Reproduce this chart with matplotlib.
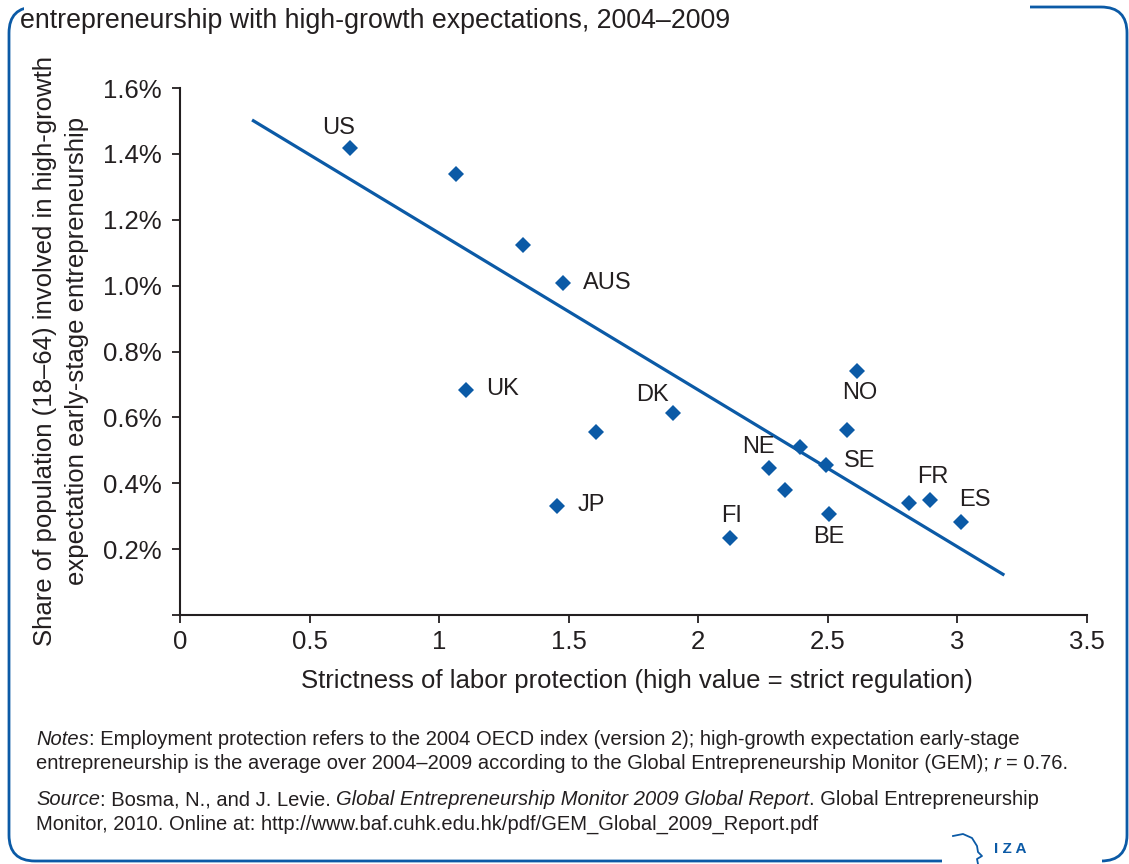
import matplotlib.pyplot as plt
from matplotlib.patches import FancyBboxPatch, Rectangle
import numpy as np

# 数据：就业保护严格程度 vs 高增长预期创业比例（%）
emp_protection = [0.656, 1.066, 1.324, 1.479, 1.104, 1.606, 1.456, 1.903, 2.614, 2.575,
                  2.394, 2.494, 2.274, 2.336, 2.506, 2.124, 2.815, 2.896, 3.015]
high_growth = [1.418, 1.339, 1.124, 1.009, 0.682, 0.555, 0.330, 0.612, 0.742, 0.561,
               0.509, 0.455, 0.445, 0.379, 0.306, 0.233, 0.339, 0.348, 0.282]
country = ['US', '', '', 'AUS', 'UK', '', 'JP', 'DK', 'NO', '',
           '', 'SE', 'NE', '', 'BE', 'FI', '', 'FR', 'ES']
# 回归线两个端点
fit_x = [0.278, 3.181]
fit_y = [1.503, 0.121]

x_ticks = [0, 0.5, 1, 1.5, 2, 2.5, 3, 3.5]
y_ticks = [0, 0.2, 0.4, 0.6, 0.8, 1.0, 1.2, 1.4, 1.6]

# 标签相对点的偏移（像素）和对齐方式
label_pos = {
    'US': (-11, 20, 'center'), 'AUS': (20, 0, 'left'), 'UK': (20, 1, 'left'),
    'JP': (20, 1, 'left'), 'DK': (-21, 18, 'center'), 'NO': (2, -22, 'center'),
    'SE': (18, 4, 'left'), 'NE': (-11, 21, 'center'), 'FI': (1, 22, 'center'),
    'BE': (-1, -23, 'center'), 'FR': (2, 23, 'center'), 'ES': (14, 22, 'center'),
}

blue = '#0b5aa6'
dark = '#231f20'
plt.rcParams['font.family'] = ['Liberation Sans', 'DejaVu Sans']
plt.rcParams['text.color'] = dark

fig = plt.figure(figsize=(11.29, 8.64), dpi=100)

# 背景层：像素坐标，画边框、标题、注释
bg = fig.add_axes([0, 0, 1, 1], zorder=0)
bg.set_xlim(0, 1129)
bg.set_ylim(864, 0)
bg.axis('off')
bg.add_patch(FancyBboxPatch((9, 7), 1118, 854, boxstyle='round,pad=0,rounding_size=26',
                            fill=False, ec=blue, lw=2))
bg.add_patch(Rectangle((24, 0), 1006, 16, fc='white', ec='none', zorder=3))
bg.add_patch(Rectangle((942, 845), 160, 19, fc='white', ec='none', zorder=3))
bg.text(20, 21, 'entrepreneurship with high-growth expectations, 2004–2009',
        fontsize=19.3, ha='left', va='center', zorder=4)

# IZA 标志
bg.plot([953, 963, 972, 977, 978, 982, 977, 978], [836, 834, 838, 846, 852, 856, 859, 864],
        color=blue, lw=1.3, zorder=4)
bg.text(994, 849, 'I Z A', color=blue, fontsize=11, fontweight='bold', ha='left',
        va='center', zorder=4)

# 坐标轴标签
bg.text(61, 351, 'Share of population (18–64) involved in high-growth\n'
        'expectation early-stage entrepreneurship', rotation=90, ha='center',
        va='center', multialignment='center', fontsize=18.5, linespacing=1.45)
bg.text(637, 681, 'Strictness of labor protection (high value = strict regulation)',
        ha='center', va='center', fontsize=18.5)

# 注释（斜体部分分段拼接）
fs = 14.5
t = bg.text(36, 745, 'Notes', fontsize=fs, style='italic', va='baseline')
bg.annotate(': Employment protection refers to the 2004 OECD index (version 2); '
            'high-growth expectation early-stage', xy=(1, 0), xycoords=t,
            fontsize=fs, va='bottom')
t = bg.text(36, 769, 'entrepreneurship is the average over 2004–2009 according to the '
            'Global Entrepreneurship Monitor (GEM);', fontsize=fs, va='baseline')
t = bg.annotate('r', xy=(1, 0), xycoords=t, xytext=(5, 0), textcoords='offset pixels',
                fontsize=fs, style='italic', va='bottom')
bg.annotate('= 0.76.', xy=(1, 0), xycoords=t, xytext=(5, 0), textcoords='offset pixels',
            fontsize=fs, va='bottom')
t = bg.text(36, 805, 'Source', fontsize=fs, style='italic', va='baseline')
t = bg.annotate(': Bosma, N., and J. Levie.', xy=(1, 0), xycoords=t, fontsize=fs, va='bottom')
t = bg.annotate('Global Entrepreneurship Monitor 2009 Global Report', xy=(1, 0), xycoords=t,
                xytext=(5, 0), textcoords='offset pixels', fontsize=fs, style='italic',
                va='bottom')
bg.annotate('. Global Entrepreneurship', xy=(1, 0), xycoords=t, fontsize=fs, va='bottom')
bg.text(36, 830, 'Monitor, 2010. Online at: http://www.baf.cuhk.edu.hk/pdf/GEM_Global_2009_Report.pdf',
        fontsize=fs, va='baseline')

# 主图
ax = fig.add_axes([180 / 1129, 1 - 615 / 864, 907 / 1129, 527 / 864], zorder=2)
ax.set_facecolor('none')
ax.plot(fit_x, fit_y, color=blue, lw=2.3, solid_capstyle='butt')
ax.plot(emp_protection, high_growth, linestyle='none', marker='D', ms=8.6,
        color=blue, mew=0)
for xi, yi, name in zip(emp_protection, high_growth, country):
    if name:
        dx, dy, ha = label_pos[name]
        ax.annotate(name, (xi, yi), xytext=(dx, dy), textcoords='offset pixels',
                    ha=ha, va='center', fontsize=17)

ax.set_xlim(0, 3.5)
ax.set_ylim(0, 1.6)
ax.set_xticks(x_ticks)
ax.set_xticklabels(['%g' % v for v in x_ticks])
ax.set_yticks(y_ticks)
ax.set_yticklabels(['' if v == 0 else '%.1f%%' % v for v in y_ticks])
for s in ['top', 'right']:
    ax.spines[s].set_visible(False)
for s in ['left', 'bottom']:
    ax.spines[s].set_color(dark)
    ax.spines[s].set_linewidth(1.5)
ax.tick_params(axis='both', colors=dark, labelsize=18.5, length=6, width=1.3)
ax.tick_params(axis='y', pad=7)
ax.tick_params(axis='x', pad=5)

fig.savefig('out.png', dpi=100)
